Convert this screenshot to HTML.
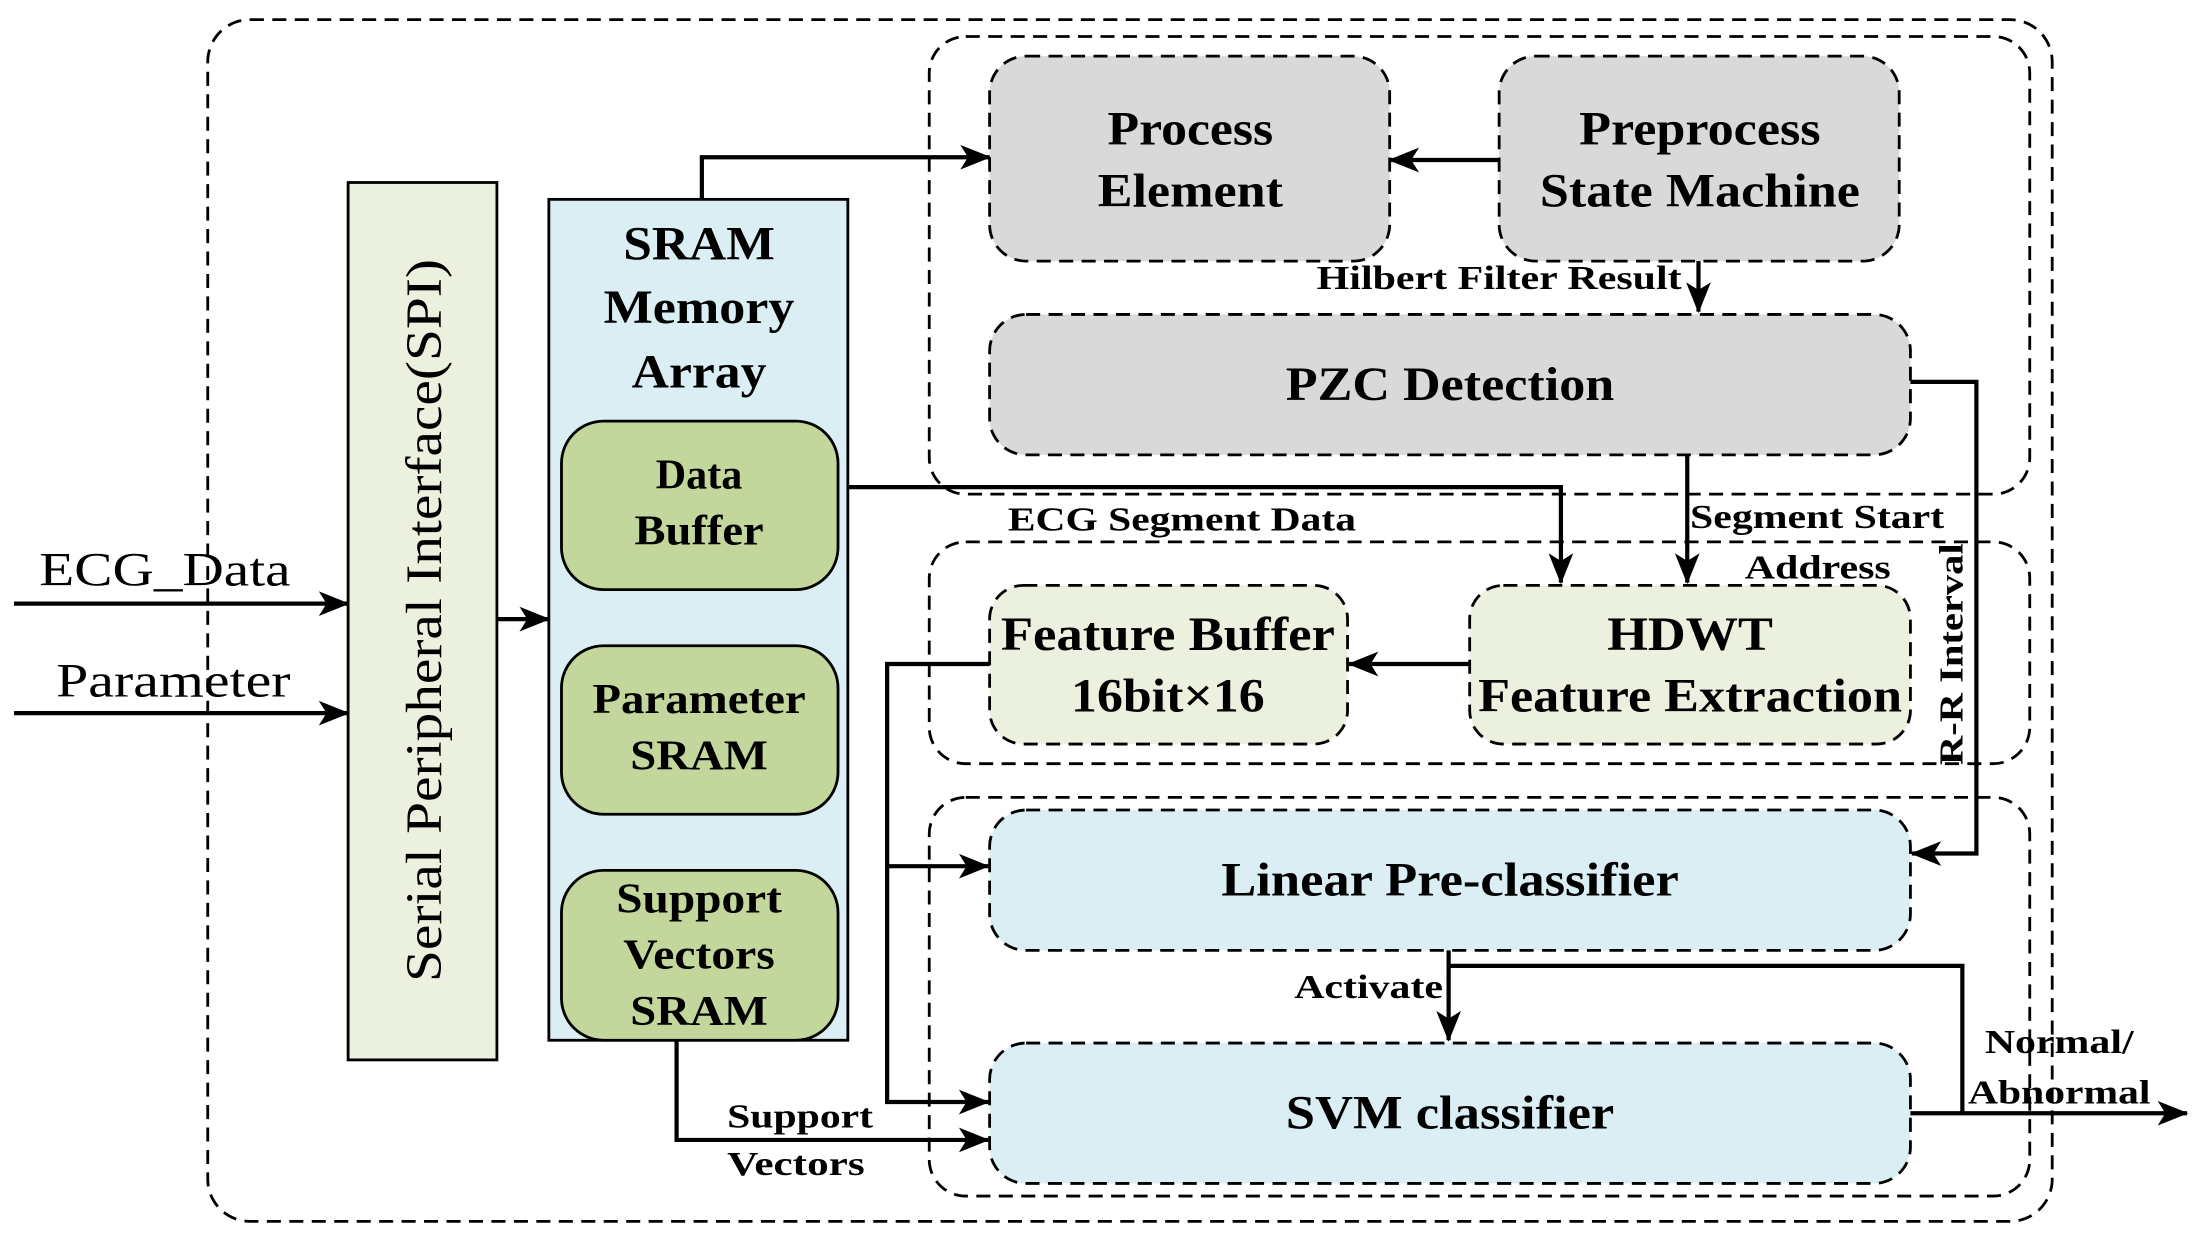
<!DOCTYPE html>
<html><head><meta charset="utf-8"><style>
html,body{margin:0;padding:0;background:#fff;}
svg{display:block;}
text{font-family:"Liberation Serif",serif;}
</style></head><body>
<svg width="2201" height="1241" viewBox="0 0 1568 884" preserveAspectRatio="none" xmlns="http://www.w3.org/2000/svg">
<defs>
<marker id="A" viewBox="0 0 20 16" refX="19" refY="8" markerWidth="22" markerHeight="18" orient="auto" markerUnits="userSpaceOnUse"><path d="M0,0 L20,8 L0,16 L5,8 z" fill="#000"/></marker>
</defs>
<g fill="none" stroke="#000" stroke-width="2" stroke-dasharray="10,6">
<rect x="148" y="14" width="1314" height="856" rx="30"/>
<rect x="662" y="26" width="784" height="326" rx="26"/>
<rect x="662" y="386" width="784" height="158" rx="26"/>
<rect x="662" y="568" width="784" height="284" rx="26"/>
</g>
<rect x="248" y="130" width="106" height="625" fill="#ebf1de" stroke="#000" stroke-width="2"/>
<text x="0" y="0" font-size="36" text-anchor="middle" textLength="515" lengthAdjust="spacingAndGlyphs" transform="translate(314,442) rotate(-90)">Serial Peripheral Interface(SPI)</text>
<rect x="391" y="142" width="213" height="599" fill="#dbeef4" stroke="#000" stroke-width="2"/>
<g font-size="34" text-anchor="middle" font-weight="bold">
<text x="498" y="185" textLength="108" lengthAdjust="spacingAndGlyphs">SRAM</text>
<text x="498" y="230" textLength="136" lengthAdjust="spacingAndGlyphs">Memory</text>
<text x="498" y="276" textLength="96" lengthAdjust="spacingAndGlyphs">Array</text>
</g>
<g fill="#c3d69b" stroke="#000" stroke-width="2">
<rect x="400" y="300" width="197" height="120" rx="30"/>
<rect x="400" y="460" width="197" height="120" rx="30"/>
<rect x="400" y="620" width="197" height="121" rx="30"/>
</g>
<g font-size="30" text-anchor="middle" font-weight="bold">
<text x="498" y="348">Data</text><text x="498" y="388" textLength="92" lengthAdjust="spacingAndGlyphs">Buffer</text>
<text x="498" y="508" textLength="152" lengthAdjust="spacingAndGlyphs">Parameter</text><text x="498" y="548" textLength="98" lengthAdjust="spacingAndGlyphs">SRAM</text>
<text x="498" y="650" textLength="118" lengthAdjust="spacingAndGlyphs">Support</text><text x="498" y="690" textLength="108" lengthAdjust="spacingAndGlyphs">Vectors</text><text x="498" y="730" textLength="98" lengthAdjust="spacingAndGlyphs">SRAM</text>
</g>
<g stroke="#000" stroke-width="2" stroke-dasharray="10,6">
<rect x="705" y="40" width="285" height="146" rx="26" fill="#d9d9d9"/>
<rect x="1068" y="40" width="285" height="146" rx="26" fill="#d9d9d9"/>
<rect x="705" y="224" width="656" height="100" rx="26" fill="#d9d9d9"/>
<rect x="705" y="417" width="255" height="113" rx="24" fill="#ebf1de"/>
<rect x="1047" y="417" width="314" height="113" rx="24" fill="#ebf1de"/>
<rect x="705" y="577" width="656" height="100" rx="26" fill="#dbeef4"/>
<rect x="705" y="743" width="656" height="100" rx="26" fill="#dbeef4"/>
</g>
<g font-size="34" text-anchor="middle" font-weight="bold">
<text x="848" y="103" textLength="118" lengthAdjust="spacingAndGlyphs">Process</text><text x="848" y="147" textLength="132" lengthAdjust="spacingAndGlyphs">Element</text>
<text x="1211" y="103" textLength="172" lengthAdjust="spacingAndGlyphs">Preprocess</text><text x="1211" y="147" textLength="228" lengthAdjust="spacingAndGlyphs">State Machine</text>
<text x="1033" y="285" textLength="234" lengthAdjust="spacingAndGlyphs">PZC Detection</text>
<text x="832" y="463" textLength="238" lengthAdjust="spacingAndGlyphs">Feature Buffer</text><text x="832" y="507" textLength="138" lengthAdjust="spacingAndGlyphs">16bit×16</text>
<text x="1204" y="463" textLength="118" lengthAdjust="spacingAndGlyphs">HDWT</text><text x="1204" y="507" textLength="302" lengthAdjust="spacingAndGlyphs">Feature Extraction</text>
<text x="1033" y="638" textLength="326" lengthAdjust="spacingAndGlyphs">Linear Pre-classifier</text>
<text x="1033" y="804" textLength="234" lengthAdjust="spacingAndGlyphs">SVM classifier</text>
</g>
<g font-size="34">
<text x="28" y="417" textLength="179" lengthAdjust="spacingAndGlyphs">ECG_Data</text>
<text x="40" y="496" textLength="167" lengthAdjust="spacingAndGlyphs">Parameter</text>
</g>
<g font-size="24" font-weight="bold">
<text x="938" y="206" textLength="260" lengthAdjust="spacingAndGlyphs">Hilbert Filter Result</text>
<text x="718" y="378" textLength="248" lengthAdjust="spacingAndGlyphs">ECG Segment Data</text>
<text x="1204" y="376" textLength="181" lengthAdjust="spacingAndGlyphs">Segment Start</text>
<text x="1295" y="412" text-anchor="middle" textLength="104" lengthAdjust="spacingAndGlyphs">Address</text>
<text x="975" y="711" text-anchor="middle" textLength="106" lengthAdjust="spacingAndGlyphs">Activate</text>
<text x="1467" y="750" text-anchor="middle" textLength="106" lengthAdjust="spacingAndGlyphs">Normal/</text>
<text x="1467" y="786" text-anchor="middle" textLength="130" lengthAdjust="spacingAndGlyphs">Abnormal</text>
<text x="570" y="803" text-anchor="middle" textLength="104" lengthAdjust="spacingAndGlyphs">Support</text>
<text x="567" y="837" text-anchor="middle" textLength="98" lengthAdjust="spacingAndGlyphs">Vectors</text>
<text x="0" y="0" text-anchor="middle" textLength="158" lengthAdjust="spacingAndGlyphs" transform="translate(1398,466) rotate(-90)">R-R Interval</text>
</g>
<g fill="none" stroke="#000" stroke-width="3">
<path d="M10,430 H248" marker-end="url(#A)"/>
<path d="M10,508 H248" marker-end="url(#A)"/>
<path d="M354,441 H391" marker-end="url(#A)"/>
<path d="M500,142 V112 H705" marker-end="url(#A)"/>
<path d="M1068,114 H990" marker-end="url(#A)"/>
<path d="M1210,186 V222" marker-end="url(#A)"/>
<path d="M1361,272 H1408 V608 H1362" marker-end="url(#A)"/>
<path d="M1202,324 V415" marker-end="url(#A)"/>
<path d="M604,347 H1112 V415" marker-end="url(#A)"/>
<path d="M1047,473 H961" marker-end="url(#A)"/>
<path d="M705,473 H632 V785 H704" marker-end="url(#A)"/>
<path d="M632,617 H704" marker-end="url(#A)"/>
<path d="M1032,677 V741" marker-end="url(#A)"/>
<path d="M1032,688 H1398 V793"/>
<path d="M1361,793 H1558" marker-end="url(#A)"/>
<path d="M482,741 V812 H704" marker-end="url(#A)"/>
</g>
</svg>
</body></html>
